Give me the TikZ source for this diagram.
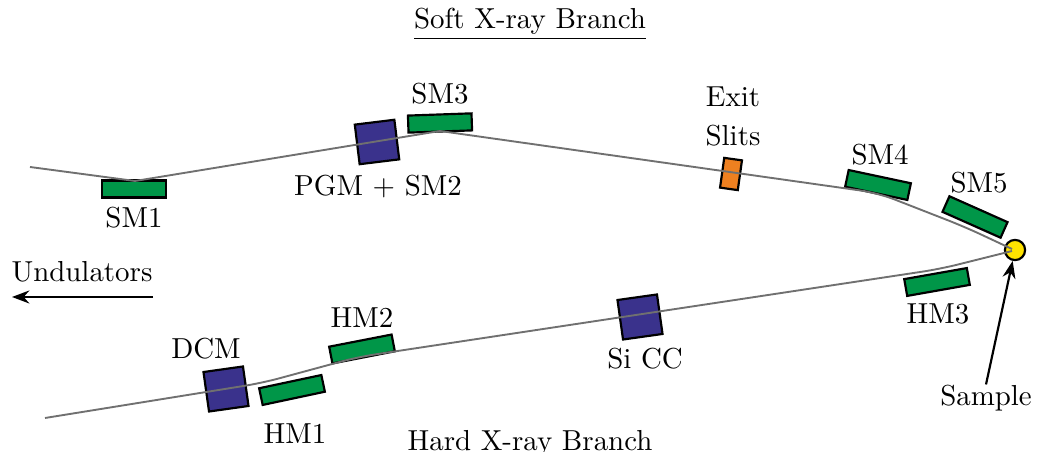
\documentclass[tikz,border=0pt]{standalone}
\usetikzlibrary{arrows.meta}
\definecolor{mgreen}{RGB}{0,150,72}
\definecolor{mnavy}{RGB}{58,50,140}
\definecolor{morange}{RGB}{238,128,32}
\definecolor{myellow}{RGB}{255,226,0}
\definecolor{beamgray}{RGB}{112,112,112}
\tikzset{
  mirror/.style={draw=black, fill=mgreen, line width=0.75pt, inner sep=0pt, minimum width=22pt, minimum height=5.9pt},
  mono/.style={draw=black, fill=mnavy, line width=0.75pt, inner sep=0pt, minimum width=13.8pt, minimum height=13.8pt},
  slit/.style={draw=black, fill=morange, line width=0.75pt, inner sep=0pt, minimum width=6.2pt, minimum height=10.4pt},
  samp/.style={circle, draw=black, fill=myellow, line width=0.75pt, inner sep=0pt, minimum size=7pt},
  lbl/.style={inner sep=0pt, font=\normalsize},
  beam/.style={draw=beamgray, line width=0.65pt},
  arr/.style={draw=black, line width=0.75pt, -{Stealth[length=6pt,width=4.5pt]}}
}
\begin{document}
\begin{tikzpicture}[x=0.346pt, y=-0.346pt]
\useasboundingbox (0,0) rectangle (1037,452);
% components
\node[mirror] (SM1) at (134,189) {};
\node[mono, rotate=7] (PGM) at (377,142) {};
\node[mirror, rotate=2] (SM3) at (440,123) {};
\node[slit, rotate=-8] (ES) at (731,174) {};
\node[mirror, rotate=-12] (SM4) at (878,185) {};
\node[mirror, rotate=-24] (SM5) at (975,217) {};
\node[samp] (S) at (1015,250) {};
\node[mirror, rotate=10] (HM3) at (937,282) {};
\node[mono, rotate=8] (SiCC) at (640,317) {};
\node[mono, rotate=8] (DCM) at (226,389) {};
\node[mirror, rotate=12] (HM1) at (292,390) {};
\node[mirror, rotate=11] (HM2) at (362,349) {};
% beam points
\coordinate (s0) at (30,167);
\coordinate (s1) at (135,181);
\coordinate (s2) at (440,131);
\coordinate (s3) at (878,193);
\coordinate (s4) at (965,227);
\coordinate (s5) at (1012,249);
\coordinate (h0) at (45,418);
\coordinate (h1) at (262,383);
\coordinate (h2) at (358,357);
\coordinate (h3) at (940,269);
\coordinate (h4) at (1012,251);
\draw[beam] (s0) -- (s1) -- (s2) [rounded corners=6pt] -- (s3) -- (s4) -- (s5);
\draw[beam, rounded corners=6pt] (h0) -- (h1) -- (h2) -- (h3) -- (h4);
% labels
\node[lbl] (title) at (530,24) {\underline{Soft X-ray Branch}};
\node[lbl] (lSM1) at (134,218) {SM1};
\node[lbl] (lPGM) at (378,187) {PGM + SM2};
\node[lbl] (lSM3) at (440,94) {SM3};
\node[lbl] (lExit) at (733,97) {Exit};
\node[lbl] (lSlits) at (733,136) {Slits};
\node[lbl] (lSM4) at (880,155) {SM4};
\node[lbl] (lSM5) at (979,183) {SM5};
\node[lbl] (lHM3) at (938,314) {HM3};
\node[lbl] (lSiCC) at (645,359) {Si CC};
\node[lbl] (lHM2) at (362,318) {HM2};
\node[lbl] (lDCM) at (206,349) {DCM};
\node[lbl] (lHM1) at (295,434) {HM1};
\node[lbl] (htitle) at (530,446) {\underline{Hard X-ray Branch}};
\node[lbl] (lUnd) at (82,272) {Undulators};
\node[lbl] (lSample) at (986,398) {Sample};
\coordinate (u0) at (153,297);
\coordinate (u1) at (12,297);
\draw[arr] (u0) -- (u1);
\draw[arr] (lSample.north) -- (S);
\end{tikzpicture}
\end{document}
